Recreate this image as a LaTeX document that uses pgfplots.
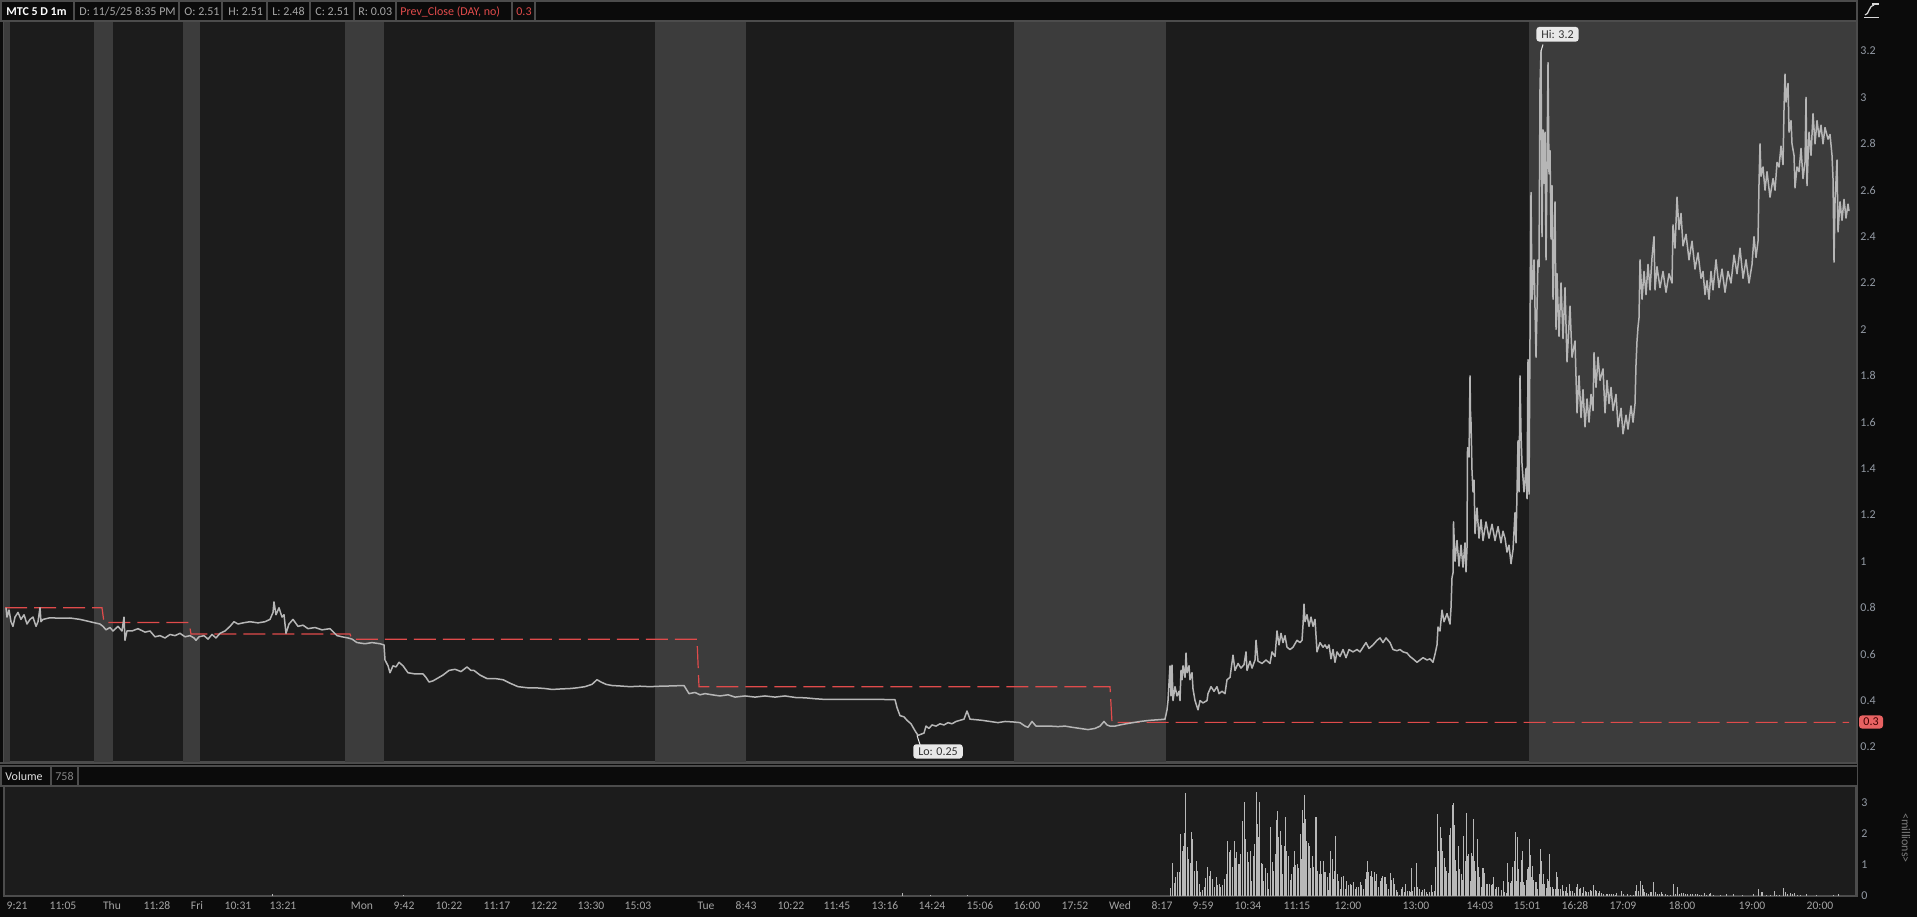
\documentclass[border=0pt]{standalone}
\usepackage{fontspec}
\setmainfont{Carlito}
\usepackage{pgfplots}
\pgfplotsset{compat=1.18}
\definecolor{bgout}{HTML}{0B0B0B}
\definecolor{plotbg}{HTML}{1C1C1C}
\definecolor{ext}{HTML}{3C3C3C}
\definecolor{pricec}{HTML}{B6B6B6}
\definecolor{volc}{HTML}{B8B8B8}
\definecolor{redc}{HTML}{E04B4B}
\definecolor{redbox}{HTML}{E86262}
\definecolor{linec}{HTML}{4C4C4C}
\definecolor{ylab}{HTML}{939AA4}
\definecolor{xlab}{HTML}{A4A4A4}
\definecolor{hdr}{HTML}{A6A6A6}
\definecolor{callout}{HTML}{E8E8E8}
\begin{document}
\begin{tikzpicture}
\useasboundingbox (0,0) rectangle (958.5pt,458.5pt);
\begin{scope}[x=0.5pt,y=-0.5pt,yshift=458.5pt]
\fill[bgout] (0,0) rectangle (1917,917);
\end{scope}

% ---------------- main price panel ----------------
\begin{axis}[
  at={(2pt,77.5pt)}, anchor=south west, scale only axis,
  width=926pt, height=370.5pt,
  xmin=4, xmax=1856, ymin=0.1353, ymax=3.3293,
  axis background/.style={fill=plotbg},
  axis line style={draw=linec, line width=0.6pt},
  xtick=\empty,
  ytick={0.2,0.4,0.6,0.8,1,1.2,1.4,1.6,1.8,2,2.2,2.4,2.6,2.8,3,3.2},
  yticklabel pos=right,
  major tick length=0pt,
  /pgf/number format/assume math mode=true,
  yticklabel style={font=\fontsize{6}{7}\selectfont, text=ylab, anchor=west, inner sep=0pt, xshift=2pt},
  clip=true,
]
% extended-hours shading
\fill[ext] (axis cs:4,0.1353) rectangle (axis cs:10,3.3293);
\fill[ext] (axis cs:94,0.1353) rectangle (axis cs:113,3.3293);
\fill[ext] (axis cs:183,0.1353) rectangle (axis cs:200,3.3293);
\fill[ext] (axis cs:345,0.1353) rectangle (axis cs:384,3.3293);
\fill[ext] (axis cs:655,0.1353) rectangle (axis cs:746,3.3293);
\fill[ext] (axis cs:1014,0.1353) rectangle (axis cs:1166,3.3293);
\fill[ext] (axis cs:1529,0.1353) rectangle (axis cs:1856,3.3293);

% previous close (step)
\addplot[redc, line width=0.6pt, dash pattern=on 11pt off 3.5pt] coordinates {
(5,0.80)(102,0.80)(104,0.737)(189,0.737)(191,0.687)(350,0.687)(352,0.664)(697,0.664)(699,0.46)(1110,0.46)(1112,0.306)(1849,0.306)};

% price (1-minute bars traced as high/low path)
\addplot[pricec, line width=0.75pt, line join=round] coordinates {
(6,0.80)(7,0.76)(9,0.79)(11,0.74)(13,0.72)(15,0.76)(18,0.78)(21,0.75)(24,0.77)(27,0.73)(30,0.75)(33,0.76)(36,0.72)(38,0.74)(40,0.80)(41,0.74)(43,0.75)(50,0.757)(60,0.755)(70,0.756)(80,0.75)(85,0.745)(90,0.74)(95,0.735)(100,0.73)(103,0.72)(106,0.705)(110,0.715)(113,0.70)(118,0.72)(122,0.70)(124,0.76)(125,0.66)(127,0.70)(132,0.70)(138,0.71)(145,0.695)(150,0.70)(155,0.675)(160,0.68)(165,0.67)(170,0.685)(175,0.68)(180,0.69)(185,0.675)(190,0.68)(194,0.67)(196,0.66)(199,0.675)(204,0.68)(208,0.665)(212,0.685)(216,0.67)(220,0.69)(225,0.70)(230,0.72)(234,0.74)(238,0.73)(243,0.735)(250,0.74)(258,0.735)(265,0.74)(270,0.75)(273,0.78)(274,0.825)(276,0.77)(279,0.80)(282,0.76)(284,0.77)(286,0.69)(289,0.73)(293,0.75)(298,0.72)(303,0.725)(308,0.71)(315,0.715)(322,0.705)(330,0.71)(337,0.68)(342,0.675)(348,0.67)(352,0.665)(357,0.65)(365,0.645)(372,0.65)(380,0.645)(384,0.64)(385,0.575)(388,0.55)(390,0.52)(393,0.55)(396,0.545)(399,0.565)(403,0.55)(408,0.52)(415,0.515)(423,0.515)(426,0.50)(429,0.48)(433,0.485)(439,0.50)(443,0.51)(449,0.53)(455,0.535)(461,0.525)(467,0.545)(471,0.53)(474,0.53)(480,0.51)(487,0.495)(495,0.495)(503,0.49)(510,0.475)(518,0.46)(528,0.455)(536,0.455)(545,0.452)(552,0.448)(560,0.45)(570,0.452)(577,0.455)(585,0.46)(592,0.47)(597,0.49)(601,0.48)(606,0.47)(612,0.465)(620,0.463)(630,0.46)(640,0.462)(650,0.46)(660,0.462)(670,0.463)(684,0.465)(689,0.43)(695,0.435)(700,0.425)(705,0.43)(712,0.425)(720,0.42)(728,0.425)(735,0.415)(745,0.42)(755,0.415)(765,0.42)(775,0.415)(785,0.42)(796,0.413)(805,0.412)(815,0.408)(825,0.405)(840,0.405)(860,0.405)(880,0.405)(895,0.404)(897,0.37)(900,0.335)(904,0.33)(907,0.315)(911,0.30)(915,0.27)(918,0.25)(921,0.255)(924,0.26)(926,0.29)(929,0.28)(932,0.295)(936,0.29)(940,0.30)(944,0.295)(948,0.305)(952,0.30)(956,0.31)(960,0.315)(964,0.32)(967,0.355)(970,0.32)(975,0.318)(982,0.315)(990,0.31)(998,0.305)(1005,0.31)(1013,0.308)(1020,0.305)(1025,0.29)(1028,0.285)(1032,0.31)(1036,0.29)(1042,0.29)(1050,0.29)(1058,0.288)(1065,0.29)(1072,0.285)(1080,0.28)(1088,0.275)(1095,0.28)(1100,0.29)(1104,0.31)(1107,0.295)(1110,0.29)(1115,0.29)(1120,0.295)(1126,0.30)(1133,0.305)(1140,0.31)(1150,0.315)(1160,0.318)(1165,0.32)(1167,0.36)
(1168,0.40)(1170,0.55)(1171,0.42)(1172,0.553)(1173,0.40)(1175,0.46)(1177,0.42)(1179,0.44)(1180,0.40)(1181,0.53)(1182,0.49)(1183,0.55)(1185,0.50)(1186,0.605)(1187,0.52)(1189,0.55)(1190,0.49)(1192,0.52)(1193,0.45)(1195,0.40)(1198,0.36)(1200,0.40)(1203,0.39)(1207,0.40)(1208,0.43)(1211,0.46)(1214,0.44)(1217,0.46)(1219,0.43)(1222,0.44)(1225,0.43)(1227,0.49)(1230,0.50)(1233,0.596)(1235,0.53)(1238,0.56)(1241,0.54)(1244,0.555)(1246,0.61)(1247,0.53)(1250,0.57)(1252,0.54)(1255,0.575)(1256,0.66)(1258,0.57)(1262,0.56)(1266,0.575)(1270,0.56)(1272,0.61)(1275,0.59)(1277,0.70)(1279,0.64)(1281,0.69)(1283,0.65)(1285,0.68)(1287,0.63)(1290,0.62)(1293,0.63)(1297,0.66)(1300,0.65)(1302,0.66)(1303,0.725)(1304,0.816)(1305,0.74)(1307,0.77)(1309,0.72)(1311,0.76)(1313,0.72)(1315,0.75)(1317,0.61)(1320,0.65)(1323,0.63)(1325,0.64)(1327,0.625)(1329,0.64)(1331,0.58)(1333,0.62)(1335,0.565)(1337,0.61)(1340,0.59)(1343,0.62)(1346,0.585)(1349,0.62)(1353,0.61)(1357,0.62)(1360,0.61)(1363,0.63)(1366,0.65)(1369,0.625)(1373,0.64)(1377,0.66)(1380,0.67)(1383,0.65)(1386,0.67)(1390,0.65)(1393,0.62)(1397,0.615)(1400,0.62)(1403,0.61)(1407,0.605)(1410,0.59)(1413,0.58)(1417,0.565)(1420,0.575)(1423,0.585)(1427,0.575)(1430,0.58)(1433,0.565)(1435,0.60)(1437,0.64)(1438,0.717)(1440,0.70)(1442,0.79)(1444,0.74)(1447,0.775)(1450,0.73)(1451,0.80)(1452,0.93)(1453,0.95)(1453.5,1.17)(1455,1.00)(1457,1.09)(1459,0.98)(1461,1.07)(1463,0.975)(1465,1.08)(1466,0.955)(1467,1.06)(1467.5,1.49)(1469,1.45)(1470,1.80)(1470.5,1.64)(1471,1.60)(1472,1.39)(1473,1.30)(1474,1.35)(1475,1.12)(1477,1.23)(1479,1.10)(1481,1.18)(1483,1.09)(1486,1.17)(1489,1.10)(1492,1.16)(1495,1.09)(1498,1.15)(1501,1.08)(1503,1.13)(1505,1.10)(1507,1.04)(1509,1.07)(1511,0.99)(1513,1.05)(1515,1.21)(1516,1.08)(1517,1.30)(1518,1.52)(1519,1.30)(1520,1.80)(1521,1.55)(1522,1.42)(1524,1.30)(1526,1.40)(1527,1.27)(1528,1.87)(1529,1.29)(1530,1.97)(1531,2.59)(1532,2.13)(1534,2.30)(1536,1.88)(1538,2.30)(1539,2.27)(1540,3.05)(1541,3.20)(1542,2.40)(1543,2.86)(1544,2.63)(1545,2.85)(1546,2.30)(1547,2.70)(1548,3.15)(1549,2.67)(1550,2.77)(1551,2.39)(1552,2.62)(1553,2.13)(1555,2.55)(1556,2.00)(1557,2.24)(1559,1.97)(1561,2.20)(1563,1.96)(1565,2.18)(1567,1.86)(1570,2.10)(1572,1.88)(1575,1.95)(1577,1.64)(1579,1.80)(1581,1.62)(1583,1.74)(1585,1.58)(1587,1.70)(1589,1.60)(1591,1.72)(1593,1.65)(1594,1.90)(1596,1.75)(1598,1.88)(1600,1.78)(1603,1.83)(1605,1.64)(1607,1.78)(1609,1.68)(1611,1.75)(1613,1.65)(1616,1.72)(1618,1.58)(1621,1.66)(1623,1.55)(1626,1.63)(1628,1.57)(1631,1.67)(1633,1.60)(1635,1.68)(1636,1.85)(1637,1.95)(1638,2.01)(1639,2.05)(1640,2.30)(1642,2.13)(1644,2.25)(1646,2.15)(1648,2.28)(1650,2.17)(1652,2.31)(1654,2.40)(1655,2.17)(1657,2.27)(1660,2.18)(1663,2.25)(1666,2.16)(1669,2.24)(1672,2.20)(1673,2.45)(1675,2.35)(1677,2.57)(1679,2.43)(1681,2.50)(1683,2.36)(1686,2.41)(1689,2.30)(1692,2.38)(1695,2.26)(1698,2.33)(1701,2.22)(1703,2.25)(1705,2.15)(1707,2.21)(1709,2.13)(1711,2.25)(1713,2.17)(1716,2.30)(1719,2.18)(1722,2.26)(1725,2.16)(1728,2.25)(1731,2.20)(1734,2.32)(1737,2.24)(1740,2.35)(1743,2.22)(1746,2.30)(1749,2.20)(1752,2.28)(1754,2.40)(1756,2.31)(1758,2.38)(1759,2.63)(1760,2.80)(1761,2.66)(1763,2.70)(1765,2.60)(1767,2.68)(1770,2.57)(1773,2.65)(1775,2.60)(1777,2.72)(1779,2.70)(1781,2.79)(1783,2.71)(1784,2.95)(1785,3.10)(1786,2.98)(1788,3.06)(1789,2.85)(1791,2.90)(1792,2.80)(1794,2.75)(1795,2.61)(1797,2.70)(1799,2.68)(1801,2.78)(1803,2.65)(1805,2.72)(1806,3.00)(1807,2.62)(1809,2.85)(1811,2.75)(1813,2.93)(1815,2.80)(1817,2.90)(1819,2.83)(1821,2.88)(1823,2.80)(1825,2.87)(1828,2.82)(1830,2.84)(1832,2.75)(1833,2.65)(1834,2.29)(1835,2.55)(1837,2.73)(1838,2.42)(1840,2.55)(1842,2.47)(1844,2.56)(1846,2.48)(1848,2.54)(1849,2.51)};

% Hi / Lo callouts
\draw[callout, line width=0.5pt] (axis cs:1543,3.228) -- (axis cs:1541,3.2);
\node[fill=callout, rounded corners=1.5pt, text=black!80, font=\fontsize{6}{7}\selectfont, inner xsep=2.5pt, inner ysep=1.6pt] at (axis cs:1557.5,3.272) {Hi: 3.2};
\draw[callout, line width=0.5pt] (axis cs:921,0.197) -- (axis cs:917,0.25);
\node[fill=callout, rounded corners=1.5pt, text=black!80, font=\fontsize{6}{7}\selectfont, inner xsep=2.5pt, inner ysep=1.6pt] at (axis cs:938,0.181) {Lo: 0.25};
\end{axis}

% ---------------- volume panel ----------------
\begin{axis}[
  at={(2pt,10.5pt)}, anchor=south west, scale only axis,
  width=926pt, height=55pt,
  xmin=4, xmax=1856, ymin=0, ymax=3.55,
  axis background/.style={fill=plotbg},
  axis line style={draw=linec, line width=0.6pt},
  ytick={0,1,2,3},
  yticklabel pos=right,
  major tick length=0pt,
  /pgf/number format/assume math mode=true,
  yticklabel style={font=\fontsize{6}{7}\selectfont, text=ylab, anchor=west, inner sep=0pt, xshift=2.5pt},
  xtick={17,63,112,157,197,238,283,362,404,449,497,544,591,638,706,746,791,837,885,932,980,1027,1075,1120,1162,1203,1248,1297,1348,1416,1480,1527,1575,1623,1682,1752,1820},
  xticklabels={9:21,11:05,Thu,11:28,Fri,10:31,13:21,Mon,9:42,10:22,11:17,12:22,13:30,15:03,Tue,8:43,10:22,11:45,13:16,14:24,15:06,16:00,17:52,Wed,8:17,9:59,10:34,11:15,12:00,13:00,14:03,15:01,16:28,17:09,18:00,19:00,20:00},
  xticklabel style={font=\fontsize{5.8}{6.5}\selectfont, text=xlab, inner sep=0pt, anchor=north, yshift=-2.6pt},
]
\addplot[volc, ycomb, line width=0.5pt] coordinates {
(272,0.06)(403,0.03)(902,0.1)(930,0.04)(967,0.03)
(1170.0,0.27)(1172.3,1.07)(1174.0,0.43)(1175.7,0.61)(1177.3,0.78)(1179.0,0.79)(1180.7,2.0)(1182.0,1.45)(1183.3,1.6)(1184.7,2.04)(1185.7,3.31)(1187.3,1.57)(1188.7,1.19)(1190.0,1.05)(1191.3,2.07)(1192.7,1.83)(1194.3,0.8)(1196.3,1.12)(1197.7,0.8)(1199.0,0.38)(1200.7,0.12)(1202.3,0.2)(1204.0,0.28)(1205.7,0.57)(1207.3,0.93)(1209.0,0.65)(1210.7,0.8)(1212.3,0.55)(1214.0,0.28)(1216.0,0.6)(1217.7,0.35)(1219.3,0.4)(1220.7,0.28)(1222.3,0.35)(1224.0,0.55)(1226.0,0.71)(1227.7,1.79)(1229.0,1.41)(1230.7,1.49)(1232.3,0.93)(1234.0,1.76)(1235.3,1.23)(1236.7,1.41)(1238.0,1.04)(1239.3,1.04)(1240.7,1.36)(1242.3,2.41)(1244.0,3.02)(1245.3,1.83)(1247.0,1.41)(1248.7,1.09)(1250.0,1.45)(1251.7,0.5)(1253.3,1.3)(1254.7,1.68)(1256.0,3.37)(1257.0,2.33)(1258.0,1.9)(1259.3,3.02)(1261.0,1.05)(1262.3,1.04)(1263.7,0.5)(1265.3,0.91)(1267.0,0.75)(1268.7,0.22)(1270.3,2.22)(1272.0,1.09)(1273.3,0.8)(1275.0,1.36)(1276.3,2.45)(1277.3,2.75)(1278.7,1.9)(1280.0,2.1)(1281.3,1.64)(1282.7,0.72)(1284.0,1.6)(1285.3,2.56)(1286.7,1.45)(1288.0,1.28)(1290.0,0.53)(1291.7,0.7)(1293.0,0.93)(1294.3,1.45)(1295.7,0.99)(1297.0,1.04)(1298.7,0.91)(1300.3,1.99)(1301.3,1.18)(1302.3,2.77)(1303.7,2.37)(1304.7,3.26)(1305.7,2.48)(1306.7,1.78)(1308.0,1.71)(1309.3,1.6)(1310.7,0.9)(1312.3,1.3)(1313.7,0.93)(1315.0,2.56)(1316.3,2.56)(1317.7,0.8)(1319.0,0.7)(1320.3,1.12)(1321.7,0.7)(1323.0,1.12)(1324.3,0.77)(1325.7,0.77)(1327.0,0.6)(1328.3,0.2)(1329.7,0.73)(1330.7,1.45)(1332.0,1.19)(1333.3,0.55)(1334.7,0.8)(1335.7,1.93)(1337.0,0.71)(1338.3,0.5)(1340.0,0.22)(1341.7,0.61)(1343.3,0.65)(1345.0,0.22)(1346.7,0.5)(1348.3,0.35)(1350.0,0.38)(1351.7,0.35)(1353.3,0.45)(1355.0,0.22)(1356.7,0.3)(1358.3,0.28)(1360.0,0.45)(1361.7,0.35)(1363.3,0.22)(1365.0,0.55)(1366.0,0.77)(1367.3,1.12)(1368.7,0.77)(1370.0,0.66)(1371.3,0.8)(1372.7,0.62)(1374.0,0.77)(1375.3,0.5)(1376.7,0.7)(1378.3,0.28)(1380.0,0.5)(1381.3,0.58)(1382.7,0.66)(1384.0,0.6)(1385.3,0.6)(1386.7,0.38)(1388.3,0.22)(1390.0,0.73)(1391.7,0.53)(1393.3,0.58)(1394.7,0.4)(1396.0,0.2)(1397.7,0.13)(1399.3,0.03)(1401.0,0.22)(1402.7,0.28)(1404.3,0.13)(1405.7,0.38)(1407.3,0.16)(1409.0,0.17)(1410.3,0.13)(1411.3,0.91)(1412.7,0.16)(1414.3,0.28)(1416.0,1.07)(1417.7,0.28)(1419.3,0.22)(1421.0,0.13)(1422.7,0.2)(1424.3,0.22)(1426.0,0.13)(1427.7,0.08)(1429.3,0.13)(1431.0,0.35)(1432.7,0.13)(1434.3,0.17)(1435.7,0.93)(1437.3,2.65)(1438.7,1.45)(1440.0,2.23)(1441.3,1.88)(1442.7,1.45)(1444.0,1.23)(1445.3,0.93)(1446.7,0.8)(1448.0,0.75)(1449.3,1.96)(1450.7,2.2)(1452.0,2.93)(1453.0,2.99)(1454.0,2.29)(1455.3,1.15)(1456.7,0.82)(1458.3,1.6)(1459.7,0.87)(1461.0,0.7)(1462.3,0.53)(1463.7,1.93)(1465.0,1.13)(1466.0,2.69)(1467.3,1.28)(1468.7,1.35)(1470.0,0.5)(1471.0,1.39)(1472.0,1.3)(1473.0,2.49)(1474.3,1.12)(1475.7,0.8)(1477.0,1.83)(1478.3,0.93)(1479.7,0.61)(1481.0,0.3)(1482.3,0.91)(1483.3,0.91)(1484.7,0.73)(1486.0,0.38)(1487.7,0.38)(1489.3,0.38)(1491.0,0.36)(1492.3,0.38)(1493.7,0.62)(1495.3,0.22)(1496.7,0.3)(1498.3,0.28)
(1501.0,0.19)(1503.3,0.48)(1504.7,0.13)(1506.0,0.1)(1507.3,1.07)(1508.3,0.45)(1510.0,0.42)(1511.3,0.5)(1512.7,0.93)(1514.0,1.12)(1515.3,2.08)(1516.3,0.5)(1517.3,1.92)(1518.7,0.87)(1520.0,0.45)(1521.0,1.17)(1522.3,1.44)(1523.3,0.45)(1524.7,0.35)(1526.0,0.53)(1527.3,0.86)(1528.3,0.93)(1529.3,1.83)(1530.3,1.33)(1531.7,0.61)(1532.7,0.96)(1533.7,0.53)(1535.0,0.45)(1536.0,0.45)(1537.3,0.22)(1539.3,0.71)(1540.3,1.52)(1541.3,1.12)(1542.3,0.38)(1543.3,0.71)(1544.7,0.38)(1546.0,0.25)(1547.7,0.55)(1548.7,0.5)(1549.3,1.37)(1550.7,0.3)(1552.0,0.3)(1553.3,0.22)(1555.0,0.22)(1556.3,0.79)(1557.3,0.61)(1558.7,0.22)(1560.3,0.22)(1562.0,0.35)(1563.3,0.17)(1565.0,0.17)(1566.3,0.28)(1567.7,0.1)(1569.3,0.39)(1570.7,0.16)(1572.3,0.17)(1574.0,0.1)(1576.3,0.3)(1577.7,0.38)(1579.0,0.22)(1580.7,0.25)(1582.3,0.1)(1583.7,0.28)(1585.3,0.16)(1586.7,0.13)(1588.3,0.13)(1590.0,0.2)(1591.7,0.17)(1593.3,0.35)(1595.0,0.2)(1596.7,0.16)(1598.3,0.1)(1599.7,0.17)(1601.3,0.1)(1603.3,0.08)(1606.0,0.06)(1607.3,0.08)(1609.3,0.08)(1611.7,0.06)(1613.3,0.06)(1615.0,0.03)(1616.7,0.1)(1621.0,0.16)(1623.3,0.06)(1627.3,0.06)(1630.0,0.03)(1633.3,0.03)(1635.3,0.16)(1636.7,0.35)(1638.3,0.16)(1640.3,0.5)(1642.0,0.35)(1643.3,0.22)(1644.7,0.13)(1646.0,0.1)(1648.3,0.06)(1650.0,0.13)(1651.7,0.13)(1653.3,0.45)(1655.0,0.13)(1657.3,0.06)(1659.3,0.08)(1661.0,0.13)(1662.7,0.08)(1665.0,0.06)(1667.3,0.03)(1670.0,0.03)(1673.3,0.39)(1675.0,0.08)(1677.0,0.28)(1679.3,0.08)(1681.7,0.1)(1683.3,0.1)(1685.0,0.06)(1687.3,0.06)(1690.0,0.06)(1692.7,0.06)(1695.0,0.06)(1697.3,0.08)(1699.3,0.03)(1701.7,0.03)(1704.0,0.1)(1706.7,0.03)(1709.0,0.08)(1710.7,0.1)(1713.3,0.03)(1720.0,0.03)(1726.7,0.08)(1733.3,0.06)(1742.3,0.03)(1753.3,0.06)(1758.3,0.22)(1761.0,0.13)(1762.7,0.14)(1766.7,0.03)(1770.0,0.03)(1774.0,0.15)(1776.7,0.03)(1779.3,0.03)(1783.3,0.25)(1785.0,0.13)(1787.3,0.06)(1790.7,0.1)(1792.7,0.06)(1794.7,0.1)(1797.3,0.03)(1800.0,0.03)(1806.0,0.08)(1816.0,0.03)(1833.3,0.03)(1838.3,0.06)};
\end{axis}

% ---------------- header, separators, labels (pixel coordinates) ----------------
\begin{scope}[x=0.5pt,y=-0.5pt,yshift=458.5pt]
% header bar
\fill[bgout] (0,0) rectangle (1857,21);
\draw[linec, line width=0.6pt] (0,1) -- (1857,1);
\draw[linec, line width=0.6pt] (0,21) -- (1857,21);
\foreach \sx in {1,74,179,222,267,310,354,396,512,535}{\draw[linec, line width=0.6pt] (\sx,1) -- (\sx,21);}
\node[anchor=west, inner sep=0pt, text=white, font=\bfseries\fontsize{6}{7}\selectfont] at (6,11.5) {MTC 5 D 1m};
\node[anchor=west, inner sep=0pt, text=hdr, font=\fontsize{6}{7}\selectfont] at (79,11.5) {D: 11/5/25 8:35 PM};
\node[anchor=west, inner sep=0pt, text=hdr, font=\fontsize{6}{7}\selectfont] at (184,11.5) {O: 2.51};
\node[anchor=west, inner sep=0pt, text=hdr, font=\fontsize{6}{7}\selectfont] at (228,11.5) {H: 2.51};
\node[anchor=west, inner sep=0pt, text=hdr, font=\fontsize{6}{7}\selectfont] at (272,11.5) {L: 2.48};
\node[anchor=west, inner sep=0pt, text=hdr, font=\fontsize{6}{7}\selectfont] at (315,11.5) {C: 2.51};
\node[anchor=west, inner sep=0pt, text=hdr, font=\fontsize{6}{7}\selectfont] at (358,11.5) {R: 0.03};
\node[anchor=west, inner sep=0pt, text=redc, font=\fontsize{6}{7}\selectfont] at (400,11.5) {Prev\_Close (DAY, no)};
\node[anchor=west, inner sep=0pt, text=redc, font=\fontsize{6}{7}\selectfont] at (516,11.5) {0.3};
% scale icon
\draw[white!85!black, line width=0.6pt] (1864,17.5) -- (1879,17.5);
\draw[white!85!black, line width=0.6pt] (1872,4) -- (1879,4);
\draw[white!85!black, line width=0.6pt] (1865,15) .. controls (1869,15) and (1869,5) .. (1874,5);
% right border of the panels
\draw[linec, line width=0.6pt] (1857,0) -- (1857,897);
% separator between panels
\fill[bgout] (0,763) rectangle (1857,786);
\draw[linec, line width=0.6pt] (0,763) -- (1857,763);
\draw[linec, line width=0.6pt] (0,766) -- (1857,766);
\draw[linec, line width=0.6pt] (0,786) -- (1857,786);
\draw[linec, line width=0.6pt] (1,766) -- (1,786);
\draw[linec, line width=0.6pt] (51,766) -- (51,786);
\draw[linec, line width=0.6pt] (78,766) -- (78,786);
\node[anchor=west, inner sep=0pt, text=white!88!black, font=\fontsize{6}{7}\selectfont] at (5,776.5) {Volume};
\node[anchor=west, inner sep=0pt, text=hdr!80!black, font=\fontsize{6}{7}\selectfont] at (55,776.5) {758};
% last-value marker on price scale
\node[fill=redbox, rounded corners=1.5pt, text=black!75!red, font=\fontsize{6}{7}\selectfont, inner xsep=2.2pt, inner ysep=1.3pt] at (1871,722) {0.3};
% volume unit
\node[rotate=-90, inner sep=0pt, text=hdr!75!black, font=\fontsize{6}{7}\selectfont] at (1906,838) {<millions>};
\end{scope}
\end{tikzpicture}
\end{document}
